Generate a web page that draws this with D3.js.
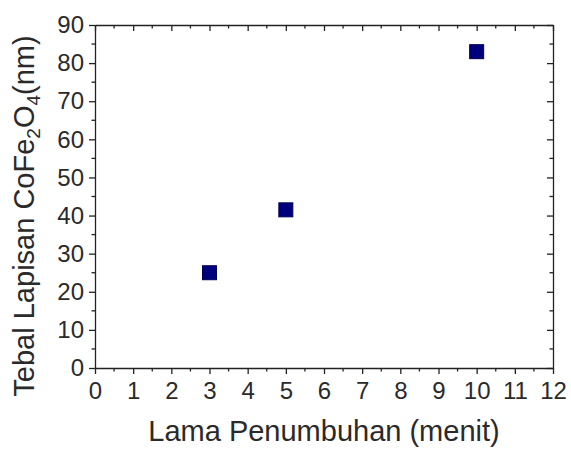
<!DOCTYPE html>
<html>
<head>
<meta charset="utf-8">
<script src="https://cdn.jsdelivr.net/npm/d3@7"></script>
<style>
  body { margin: 0; background: #fff; }
  svg { display: block; font-family: "Liberation Sans", Arial, sans-serif; }
  .axis path, .axis line { stroke: #222; stroke-width: 1.3; }
  .axis text { font-size: 24px; fill: #2a2a2a; }
  .axis-title { font-size: 29px; fill: #2a2a2a; }
</style>
</head>
<body>
<svg id="chart"></svg>
<script>
// growth time (minutes) and CoFe2O4 layer thickness (nm)
const waktu = [3, 5, 10];
const tebal = [25, 41.5, 83];

const xTicks = [0, 1, 2, 3, 4, 5, 6, 7, 8, 9, 10, 11, 12];
const yTicks = [0, 10, 20, 30, 40, 50, 60, 70, 80, 90];
const xMinor = d3.range(0.5, 12, 1);
const yMinor = d3.range(5, 90, 10);

const width = 571, height = 449;
const margin = {top: 25, right: 18, bottom: 81, left: 95};
const w = width - margin.left - margin.right;
const h = height - margin.top - margin.bottom;

const svg = d3.select('#chart')
    .attr('width', width)
    .attr('height', height);

const chart = svg.append('g')
    .attr('transform', `translate(${margin.left},${margin.top})`);

const xScale = d3.scaleLinear().domain([0, 12]).range([0, w]);
const yScale = d3.scaleLinear().domain([0, 90]).range([h, 0]);

// bottom axis, outward ticks + minor ticks
const xAxisG = chart.append('g')
    .attr('class', 'axis')
    .attr('transform', `translate(0,${h})`)
    .call(d3.axisBottom(xScale).tickValues(xTicks).tickSize(6).tickSizeOuter(0).tickPadding(8).tickFormat(d3.format('d')));
xAxisG.selectAll('.minor').data(xMinor).join('line')
    .attr('class', 'minor')
    .attr('x1', d => xScale(d)).attr('x2', d => xScale(d))
    .attr('y1', 0).attr('y2', 3.5);

// left axis
const yAxisG = chart.append('g')
    .attr('class', 'axis')
    .call(d3.axisLeft(yScale).tickValues(yTicks).tickSize(6).tickSizeOuter(0).tickPadding(5).tickFormat(d3.format('d')));
yAxisG.selectAll('.minor').data(yMinor).join('line')
    .attr('class', 'minor')
    .attr('y1', d => yScale(d)).attr('y2', d => yScale(d))
    .attr('x1', 0).attr('x2', -3.5);

// top axis, inward ticks
const topG = chart.append('g')
    .attr('class', 'axis')
    .call(d3.axisTop(xScale).tickValues(xTicks).tickSize(-6).tickSizeOuter(0).tickFormat(''));
topG.selectAll('.minor').data(xMinor).join('line')
    .attr('class', 'minor')
    .attr('x1', d => xScale(d)).attr('x2', d => xScale(d))
    .attr('y1', 0).attr('y2', 3.5);

// right axis, inward ticks
const rightG = chart.append('g')
    .attr('class', 'axis')
    .attr('transform', `translate(${w},0)`)
    .call(d3.axisRight(yScale).tickValues(yTicks).tickSize(-6).tickSizeOuter(0).tickFormat(''));
rightG.selectAll('.minor').data(yMinor).join('line')
    .attr('class', 'minor')
    .attr('y1', d => yScale(d)).attr('y2', d => yScale(d))
    .attr('x1', 0).attr('x2', -3.5);

// markers
const size = 14;
chart.append('g').selectAll('rect')
    .data(waktu.map((d, i) => ({x: d, y: tebal[i]})))
  .join('rect')
    .attr('x', d => xScale(d.x) - size / 2)
    .attr('y', d => yScale(d.y) - size / 2)
    .attr('width', size)
    .attr('height', size)
    .attr('fill', '#00007c')
    .attr('stroke', '#000058')
    .attr('stroke-width', 1);

// x title
svg.append('text')
    .attr('class', 'axis-title')
    .attr('x', margin.left + w / 2)
    .attr('y', 441)
    .attr('text-anchor', 'middle')
    .text('Lama Penumbuhan (menit)');

// y title with subscripts
const yTitle = svg.append('text')
    .attr('class', 'axis-title')
    .attr('text-anchor', 'middle')
    .attr('transform', 'translate(34,216) rotate(-90)');
yTitle.append('tspan').text('Tebal Lapisan CoFe');
yTitle.append('tspan').attr('font-size', '19px').attr('dy', '6').text('2');
yTitle.append('tspan').attr('dy', '-6').text('O');
yTitle.append('tspan').attr('font-size', '19px').attr('dy', '6').text('4');
yTitle.append('tspan').attr('dy', '-6').text('(nm)');
</script>
</body>
</html>
